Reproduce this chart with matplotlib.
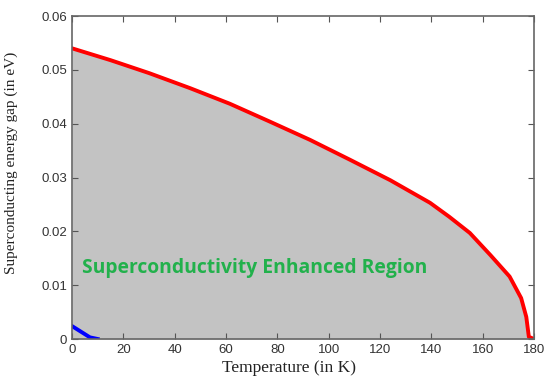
import matplotlib
matplotlib.use("Agg")
import matplotlib.pyplot as plt

# data
temp_red = [0, 15, 30, 46, 61.5, 77, 92.7, 108.3, 124, 139.5, 147, 155, 163,
            170.5, 175, 177, 178, 180]
gap_red = [0.0540, 0.0518, 0.0494, 0.0466, 0.0437, 0.0404, 0.0370, 0.0333,
           0.0295, 0.0253, 0.0227, 0.0197, 0.0156, 0.0116, 0.0076, 0.0041,
           0.0004, 0.0]
temp_blue = [0, 7, 10]
gap_blue = [0.0024, 0.0003, 0.0]
xticks = [0, 20, 40, 60, 80, 100, 120, 140, 160, 180]
yticks = [0, 0.01, 0.02, 0.03, 0.04, 0.05, 0.06]
yticklabels = ["0", "0.01", "0.02", "0.03", "0.04", "0.05", "0.06"]

fig = plt.figure(figsize=(5.46, 3.76), dpi=100)
ax = fig.add_axes([0.1319, 0.0984, 0.978 - 0.1319, 0.9574 - 0.0984])

ax.fill_between(temp_red, gap_red, 0, color="#c3c3c3", lw=0)
ax.plot(temp_red, gap_red, color="#ff0000", lw=2.8, solid_joinstyle="round")
ax.plot(temp_blue, gap_blue, color="#0000ff", lw=2.8)

ax.set_xlim(0, 180)
ax.set_ylim(0, 0.06)
ax.set_xticks(xticks)
ax.set_xticklabels([str(t) for t in xticks])
ax.set_yticks(yticks)
ax.set_yticklabels(yticklabels)

for sp in ax.spines.values():
    sp.set_color("#666666")
    sp.set_linewidth(1.2)
ax.tick_params(direction="in", top=True, right=True, length=4, width=0.8,
               color="#555555", labelsize=9.5, labelcolor="#333333")
for lab in ax.get_xticklabels() + ax.get_yticklabels():
    lab.set_family("Liberation Sans")

ax.set_xlabel("Temperature (in K)", family="Liberation Serif", fontsize=12.5,
              color="#222222")
ax.xaxis.set_label_coords(0.47, -0.066)
ax.set_ylabel("Superconducting energy gap (in eV)", family="Liberation Serif",
              fontsize=11, color="#222222")
ax.yaxis.set_label_coords(-0.116, 0.545)

ax.text(3.9, 0.0132, "Superconductivity Enhanced Region", family="Open Sans",
        weight="bold", fontsize=13.9, color="#22b14c", va="center", ha="left")

fig.savefig("out.png", dpi=100)
